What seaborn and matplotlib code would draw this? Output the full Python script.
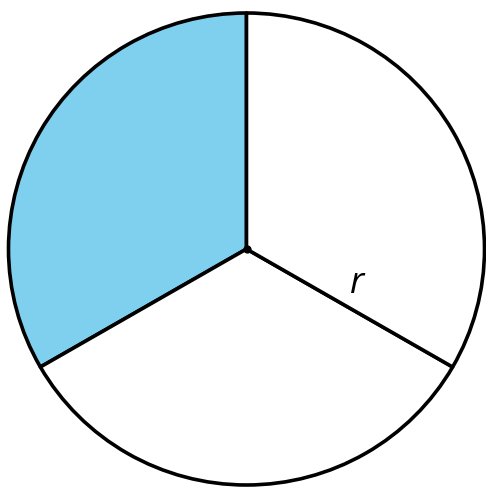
import matplotlib
matplotlib.use("Agg")
import matplotlib.pyplot as plt
import seaborn as sns

sns.set_style("white")

# Data: three equal sectors, first one shaded
sector_labels = ["shaded", "part 2", "part 3"]
sector_values = [1, 1, 1]
sector_colors = ["#7fd0ef", "#ffffff", "#ffffff"]
radius_label = "r"

W, H = 486, 487
fig = plt.figure(figsize=(W / 100, H / 100), dpi=100)
cx, cy, RX, RY = 246.5, 249, 238, 236
ax = fig.add_axes([(cx - RX) / W, (H - cy - RY) / H, 2 * RX / W, 2 * RY / H])

ax.pie(sector_values, colors=sector_colors, startangle=90, counterclock=True,
       radius=1.0, center=(0, 0),
       wedgeprops=dict(edgecolor="black", linewidth=2.6, joinstyle="round"))
ax.set_xlim(-1, 1)
ax.set_ylim(-1, 1)
ax.set_aspect("auto")
ax.scatter([0], [0], s=24, color="black", zorder=5)
ax.text(0.466, -0.15, radius_label, fontsize=26, fontstyle="italic",
        ha="center", va="center", family="Open Sans", color="black")
ax.axis("off")
fig.savefig("out.png", dpi=100)
